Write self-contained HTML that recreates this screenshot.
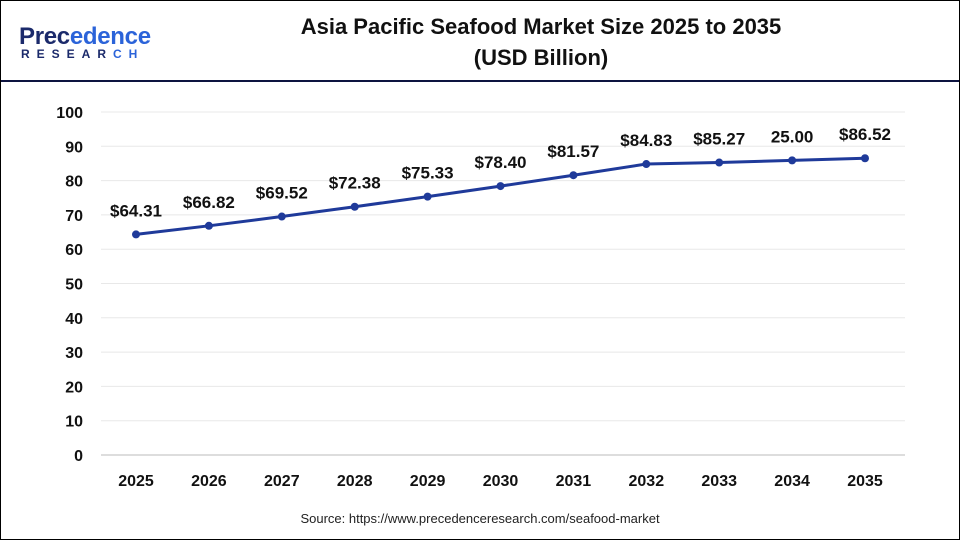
<!DOCTYPE html>
<html><head><meta charset="utf-8"><style>
body{margin:0;background:#fff}
#wrap{position:relative;width:958px;height:538px;border:1px solid #000;overflow:hidden;font-family:"Liberation Sans",Arial,sans-serif}
#title{position:absolute;left:230px;width:620px;top:10px;text-align:center;font-weight:bold;font-size:22px;line-height:31px;color:#111}
#hr{position:absolute;left:0;top:79px;width:958px;height:2px;background:#0d1440}
#logo1{position:absolute;left:18px;top:22px;font-size:24px;color:#1b2a6b;font-weight:bold;letter-spacing:-0.3px}
#logo1 span{color:#2b63d9}
#logo2{position:absolute;left:20px;top:46px;font-size:12px;font-weight:bold;color:#1b2a6b;letter-spacing:7px}
#src{position:absolute;left:0;width:958px;top:510px;text-align:center;font-size:13px;color:#222}
</style></head><body>
<div id="wrap">
<div id="logo1">Prec<span>edence</span></div>
<div id="logo2">RESEAR<span style="color:#2b63d9">CH</span></div>
<div id="title">Asia Pacific Seafood Market Size 2025 to 2035<br>(USD Billion)</div>
<div id="hr"></div>
<svg id="chart" width="958" height="538" style="position:absolute;left:0;top:0"></svg>
<div id="src">Source: https://www.precedenceresearch.com/seafood-market</div>
</div>
<script>
const categories=["2025","2026","2027","2028","2029","2030","2031","2032","2033","2034","2035"];
const values=[64.31,66.82,69.52,72.38,75.33,78.40,81.57,84.83,85.27,85.90,86.52];
const valueLabels=["$64.31","$66.82","$69.52","$72.38","$75.33","$78.40","$81.57","$84.83","$85.27","25.00","$86.52"];
const yTicks=[0,10,20,30,40,50,60,70,80,90,100];
const NS="http://www.w3.org/2000/svg";
const svg=document.getElementById('chart');
const x0=100,x1=904,y0=454,yTop=111;
const xs=i=>135+i*72.9;
const ys=v=>y0-(v/100)*(y0-yTop);
function mk(t,a,txt){const e=document.createElementNS(NS,t);for(const k in a)e.setAttribute(k,a[k]);if(txt!==undefined)e.textContent=txt;svg.appendChild(e);return e;}
yTicks.forEach(t=>{
 const g=mk('line',{x1:x0,x2:x1,y1:ys(t),y2:ys(t),stroke:t===0?'#bbb':'#e8e8e8','stroke-width':1});
 
 
 const l=mk('text',{x:82,y:ys(t)+6,'text-anchor':'end','font-size':16,'font-weight':'bold',fill:'#111','font-family':'Liberation Sans,Arial,sans-serif'},String(t));
 
 
});
categories.forEach((c,i)=>{
 const l=mk('text',{x:xs(i),y:485,'text-anchor':'middle','font-size':16,'font-weight':'bold',fill:'#111','font-family':'Liberation Sans,Arial,sans-serif'},c);
 
 
});
const pl=mk('polyline',{points:values.map((v,i)=>xs(i)+','+ys(v)).join(' '),fill:'none',stroke:'#1f3a9a','stroke-width':3});


values.forEach((v,i)=>{
 const p=mk('circle',{cx:xs(i),cy:ys(v),r:4,fill:'#1f3a9a'});
 
 
 const t=mk('text',{x:xs(i),y:ys(v)-18,'text-anchor':'middle','font-size':17,'font-weight':'bold',fill:'#111','font-family':'Liberation Sans,Arial,sans-serif'},valueLabels[i]);
 
 
});
</script>
</body></html>
